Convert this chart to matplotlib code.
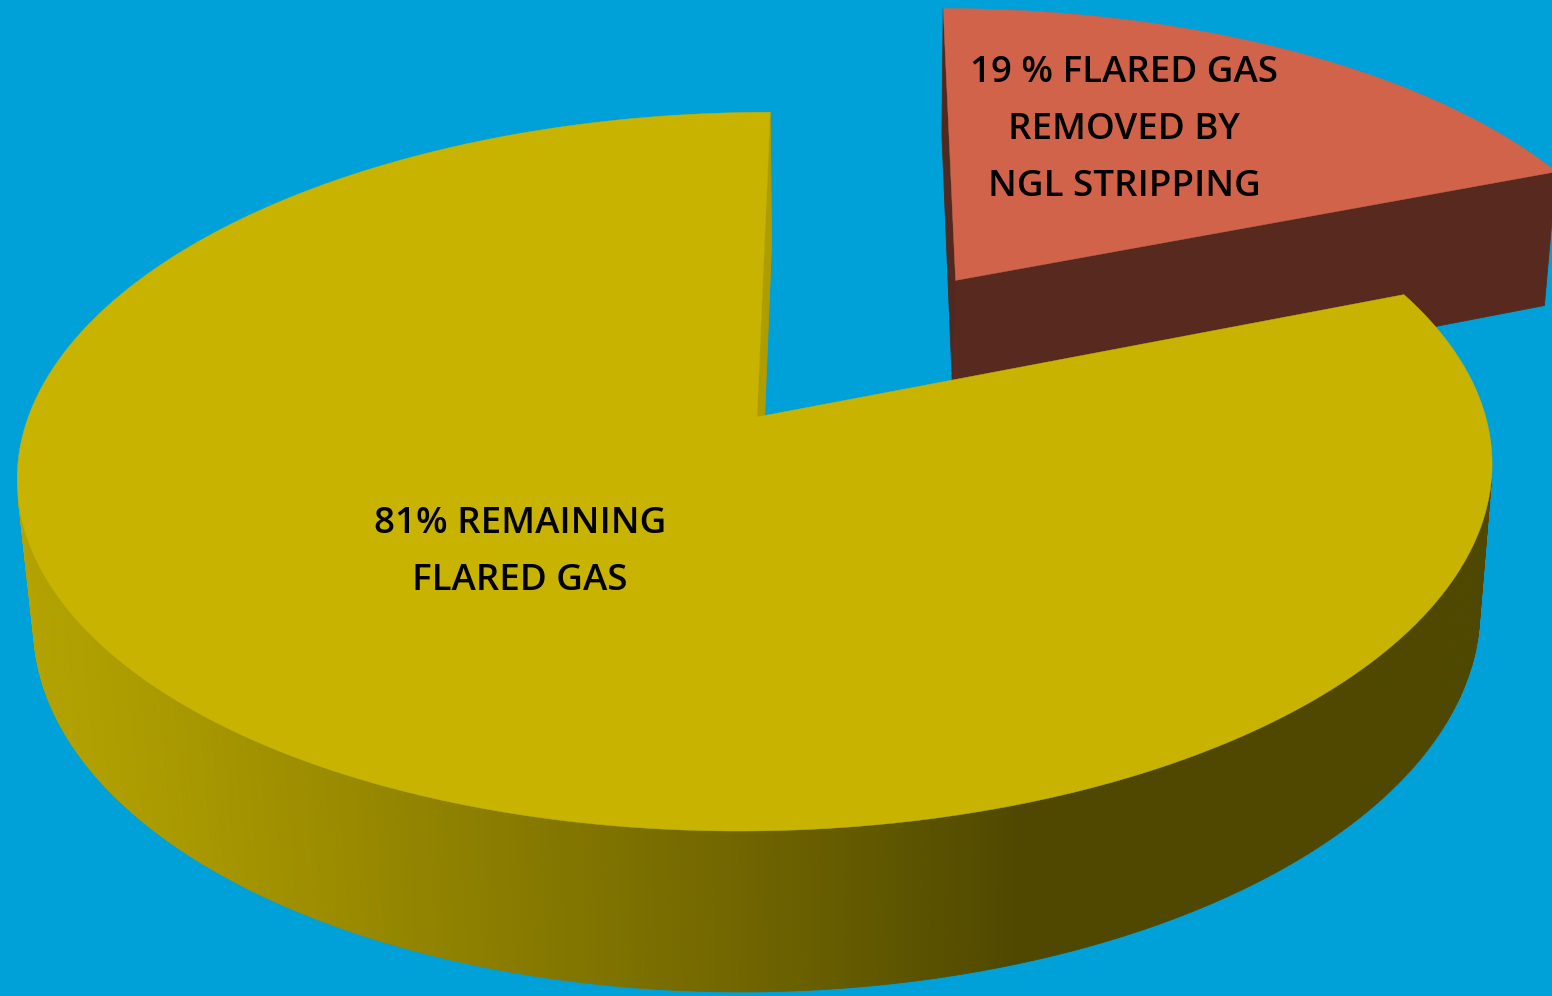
import numpy as np
import matplotlib
matplotlib.use("Agg")
import matplotlib.pyplot as plt
from matplotlib.collections import PolyCollection
from matplotlib.patches import Polygon
from matplotlib.colors import to_rgb

# ---------------- data ----------------
slice_labels = ["19 % FLARED GAS\nREMOVED BY\nNGL STRIPPING",
                "81% REMAINING\nFLARED GAS"]
slice_values = [19, 81]
slice_colors = ["#D0634A", "#C8B400"]
slice_explode = [0.5, 0.0]

# ---------------- style / layout ----------------
BG = "#00A0D8"
W, H = 1552, 996
START = 90.0                      # first slice starts at 12 o'clock, clockwise
label_anchor = [(1124, 82), (520, 533)]   # first-line baselines (pixels)
LINE_STEP = 57
FONT = ["Open Sans", "DejaVu Sans"]

# camera (perspective 3-D pie)
elev = np.deg2rad(28.8)
s, c = np.sin(elev), np.cos(elev)
D = 6.577 * c
F = 4200.0
x0 = 0.137
CX, CY = 757.0, 417.0
thick = 0.231
px0 = CX + F * x0 / D
cam = np.array([x0, -D * c, D * s])
LIGHT = 199.0


def proj(X, Y, Z):
    X, Y, Z = (np.asarray(a, dtype=float) for a in (X, Y, Z))
    depth = D + Y * c - Z * s
    up = Y * s + Z * c
    return px0 + F * (X - x0) / depth, CY - F * up / depth


def shade(col, ang):
    f = 0.40 + 0.50 * max(0.0, np.cos(np.deg2rad(ang - LIGHT)))
    r, g, b = to_rgb(col)
    return (r * f, g * f, b * f)


fig = plt.figure(figsize=(W / 100, H / 100), dpi=100, facecolor=BG)
ax = fig.add_axes([0, 0, 1, 1])
ax.set_xlim(0, W)
ax.set_ylim(H, 0)
ax.axis("off")
ax.set_facecolor(BG)

total = float(sum(slice_values))
cum = np.cumsum([0] + slice_values)
slices = []
for i, v in enumerate(slice_values):
    t1 = START - cum[i] / total * 360
    t2 = START - cum[i + 1] / total * 360
    mid = np.deg2rad((t1 + t2) / 2)
    ox = slice_explode[i] * np.cos(mid)
    oy = slice_explode[i] * np.sin(mid)
    slices.append((t1, t2, ox, oy, i))
slices.sort(key=lambda q: -q[3])   # farthest first

for t1, t2, ox, oy, i in slices:
    col = slice_colors[i]
    polys, fcs = [], []
    # radial faces
    for t, nang in ((t1, t1 + 90), (t2, t2 - 90)):
        tr = np.deg2rad(t)
        nr = np.deg2rad(nang)
        n = np.array([np.cos(nr), np.sin(nr), 0.0])
        P = np.array([ox, oy, 0.0])
        if n @ (cam - P) > 0:
            X = [ox, ox + np.cos(tr), ox + np.cos(tr), ox]
            Y = [oy, oy + np.sin(tr), oy + np.sin(tr), oy]
            Z = [0, 0, -thick, -thick]
            u, v = proj(X, Y, Z)
            polys.append(np.column_stack([u, v]))
            fcs.append(shade(col, nang + 180))
    # outer wall
    ts = np.linspace(t1, t2, 500)
    for a, b in zip(ts[:-1], ts[1:]):
        m = np.deg2rad((a + b) / 2)
        n = np.array([np.cos(m), np.sin(m), 0.0])
        P = np.array([ox + np.cos(m), oy + np.sin(m), 0.0])
        if n @ (cam - P) > 0:
            ar, br = np.deg2rad(a), np.deg2rad(b)
            X = [ox + np.cos(ar), ox + np.cos(br), ox + np.cos(br), ox + np.cos(ar)]
            Y = [oy + np.sin(ar), oy + np.sin(br), oy + np.sin(br), oy + np.sin(ar)]
            Z = [0, 0, -thick, -thick]
            u, v = proj(X, Y, Z)
            polys.append(np.column_stack([u, v]))
            fcs.append(shade(col, np.rad2deg(m)))
    if polys:
        pc = PolyCollection(polys, facecolors=fcs, edgecolors=fcs, linewidths=0.6)
        ax.add_collection(pc)
    # top face
    tt = np.deg2rad(np.linspace(t1, t2, 600))
    X = np.r_[ox, ox + np.cos(tt)]
    Y = np.r_[oy, oy + np.sin(tt)]
    u, v = proj(X, Y, np.zeros_like(X))
    ax.add_patch(Polygon(np.column_stack([u, v]), closed=True, fc=col, ec=col, lw=0.3))

for i, lab in enumerate(slice_labels):
    x, y = label_anchor[i]
    for j, line in enumerate(lab.split("\n")):
        ax.text(x, y + j * LINE_STEP, line, ha="center", va="baseline",
                fontsize=26.5, fontweight="semibold", family=FONT, color="#000000")

fig.savefig("out.png", dpi=100, facecolor=BG)
